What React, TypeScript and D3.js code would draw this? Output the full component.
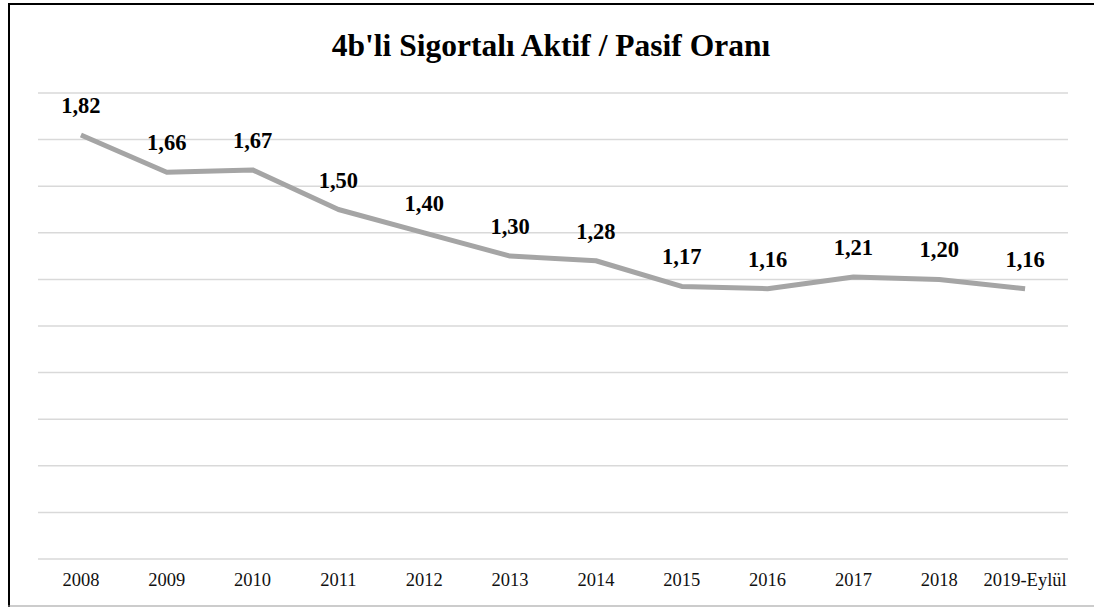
import React from 'react';
import * as d3 from 'd3';

const title = "4b'li Sigortalı Aktif / Pasif Oranı";
const years = ['2008', '2009', '2010', '2011', '2012', '2013', '2014', '2015', '2016', '2017', '2018', '2019-Eylül'];
const ratios = [1.82, 1.66, 1.67, 1.5, 1.4, 1.3, 1.28, 1.17, 1.16, 1.21, 1.2, 1.16];
const gridTicks = [0, 0.2, 0.4, 0.6, 0.8, 1.0, 1.2, 1.4, 1.6, 1.8, 2.0];

const W = 1094;
const H = 607;
const serif = { fontFamily: 'Liberation Serif' };

const App = () => {
  const x = d3.scaleBand().domain(years).range([38, 1068]);
  const y = d3.scaleLinear().domain([0, 2]).range([559, 93]);
  const cx = (d: string) => (x(d) as number) + x.bandwidth() / 2;

  const line = d3
    .line<number>()
    .x((_, i) => cx(years[i]))
    .y((d) => y(d));

  const fmt = (v: number) => v.toFixed(2).replace('.', ',');

  return (
    <svg width={W} height={H} style={{ position: 'absolute', left: 0, top: 0, background: '#fff' }}>
      {/* frame */}
      <line x1={8} x2={W} y1={4} y2={4} stroke="#000" strokeWidth={2} />
      <line x1={9} x2={9} y1={3} y2={H} stroke="#000" strokeWidth={2} />
      <line x1={8} x2={W} y1={606} y2={606} stroke="#999" strokeWidth={1.2} />

      <text x={551} y={56} textAnchor="middle" style={serif} fontWeight="bold" fontSize={31.5}>
        {title}
      </text>

      {/* grid */}
      {gridTicks.map((t) => (
        <line key={t} x1={38} x2={1068} y1={y(t)} y2={y(t)} stroke="#d9d9d9" strokeWidth={1.5} />
      ))}

      <path d={line(ratios) || ''} fill="none" stroke="#a5a5a5" strokeWidth={5} strokeLinejoin="round" />

      {ratios.map((v, i) => (
        <text
          key={years[i]}
          x={cx(years[i])}
          y={y(v) - 22}
          textAnchor="middle"
          style={serif}
          fontWeight="bold"
          fontSize={22.5}
        >
          {fmt(v)}
        </text>
      ))}

      {years.map((yr) => (
        <text key={yr} x={cx(yr)} y={586} textAnchor="middle" style={serif} fontSize={18.5} fill="#111">
          {yr}
        </text>
      ))}
    </svg>
  );
};

export default App;
